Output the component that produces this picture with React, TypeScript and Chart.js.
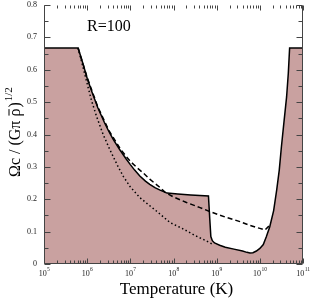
import React, { useEffect, useRef } from "react";
import { Chart, registerables } from "chart.js";

Chart.register(...registerables);

// log10 of temperature (K) and Omega_c / (G pi rho)^1/2
const solidLogT = [5, 5.79, 5.9, 6.0, 6.1, 6.25, 6.4, 6.5, 6.6, 6.76, 6.9, 7.0, 7.1, 7.22, 7.35, 7.45, 7.58, 7.69, 7.85, 8.1, 8.4, 8.81, 8.84, 8.865, 8.9, 8.95, 9.07, 9.2, 9.4, 9.6, 9.7, 9.77, 9.84, 9.92, 10.0, 10.08, 10.15, 10.23, 10.32, 10.39, 10.45, 10.5, 10.56, 10.62, 10.66, 10.69, 11];
const solidOmega = [0.667, 0.667, 0.62, 0.574, 0.535, 0.482, 0.437, 0.41, 0.386, 0.352, 0.325, 0.307, 0.29, 0.272, 0.256, 0.246, 0.235, 0.228, 0.219, 0.216, 0.213, 0.21, 0.14, 0.085, 0.072, 0.065, 0.058, 0.052, 0.046, 0.04, 0.036, 0.034, 0.035, 0.04, 0.048, 0.06, 0.084, 0.115, 0.165, 0.228, 0.29, 0.362, 0.44, 0.516, 0.59, 0.667, 0.667];

const dashedLogT = [5.79, 6.0, 6.25, 6.5, 6.76, 6.9, 7.0, 7.15, 7.3, 7.45, 7.69, 7.8, 8.0, 8.3, 8.6, 8.84, 9.2, 9.54, 9.77, 10.0, 10.12, 10.21];
const dashedOmega = [0.667, 0.576, 0.484, 0.413, 0.357, 0.333, 0.317, 0.298, 0.281, 0.262, 0.236, 0.222, 0.207, 0.19, 0.175, 0.162, 0.145, 0.131, 0.119, 0.11, 0.105, 0.117];

const dottedLogT = [5.79, 5.9, 6.0, 6.1, 6.22, 6.37, 6.53, 6.7, 6.84, 7.0, 7.22, 7.45, 7.61, 7.92, 8.2, 8.5, 8.75, 8.92];
const dottedOmega = [0.667, 0.61, 0.557, 0.505, 0.455, 0.4, 0.352, 0.305, 0.27, 0.238, 0.205, 0.18, 0.163, 0.128, 0.11, 0.088, 0.072, 0.06];

const xDecades = [5, 6, 7, 8, 9, 10, 11];
const yTicks = [0, 0.1, 0.2, 0.3, 0.4, 0.5, 0.6, 0.7, 0.8];
const annotationText = "R=100";
const xTitle = "Temperature (K)";

const SERIF = "'Liberation Serif', 'DejaVu Serif', serif";

const toPts = (lt: number[], v: number[]) => lt.map((e, i) => ({ x: Math.pow(10, e), y: v[i] }));

const decorPlugin = {
  id: "decor",
  afterDraw(chart: any) {
    const ctx = chart.ctx;
    const xs = chart.scales.x;
    const ys = chart.scales.y;
    const { left, right, top, bottom } = chart.chartArea;
    const L = Math.round(left) + 0.5;
    const R = Math.round(right) - 0.5;
    const B = Math.round(bottom) - 0.5;
    const T = Math.round(top) + 0.5;
    ctx.save();
    ctx.strokeStyle = "#444";
    ctx.lineWidth = 1;
    ctx.beginPath();
    ctx.moveTo(L, T);
    ctx.lineTo(L, B);
    ctx.lineTo(R, B);
    ctx.lineTo(R, T);
    ctx.stroke();
    ctx.beginPath();
    for (let i = 0; i < xDecades.length; i++) {
      const e = xDecades[i];
      for (let k = 1; k <= 9; k++) {
        if (e === xDecades[xDecades.length - 1] && k > 1) break;
        const px = Math.round(xs.getPixelForValue(k * Math.pow(10, e))) + 0.5;
        const len = k === 1 ? 5 : 3;
        ctx.moveTo(px, B);
        ctx.lineTo(px, B - len);
        ctx.moveTo(px, T);
        ctx.lineTo(px, T + len);
      }
    }
    for (let j = 0; j <= 16; j++) {
      const v = j * 0.05;
      const py = Math.round(ys.getPixelForValue(v)) + 0.5;
      const len = j % 2 === 0 ? 6 : 4;
      ctx.moveTo(L, py);
      ctx.lineTo(L + len, py);
      ctx.moveTo(R, py);
      ctx.lineTo(R - len, py);
    }
    ctx.stroke();

    ctx.fillStyle = "#222";
    ctx.textBaseline = "alphabetic";
    for (const e of xDecades) {
      const px = xs.getPixelForValue(Math.pow(10, e));
      ctx.font = `8px ${SERIF}`;
      const w1 = ctx.measureText("10").width;
      ctx.font = `5.5px ${SERIF}`;
      const w2 = ctx.measureText(String(e)).width;
      const x0 = px - (w1 + w2) / 2;
      ctx.font = `8px ${SERIF}`;
      ctx.textAlign = "left";
      ctx.fillText("10", x0, 276);
      ctx.font = `5.5px ${SERIF}`;
      ctx.fillText(String(e), x0 + w1 + 0.3, 271);
    }

    ctx.fillStyle = "#000";
    ctx.font = `17px ${SERIF}`;
    ctx.textAlign = "center";
    ctx.fillText(xTitle, 176.5, 294);

    ctx.font = `16px ${SERIF}`;
    ctx.textAlign = "left";
    ctx.fillText(annotationText, 87, 31);

    ctx.save();
    ctx.translate(20, 177);
    ctx.rotate(-Math.PI / 2);
    ctx.font = `16px ${SERIF}`;
    ctx.textAlign = "left";
    let x = 0;
    const part1 = "\u03A9c / (G\u03C0 ";
    ctx.fillText(part1, x, 0);
    x += ctx.measureText(part1).width;
    const rho = "\u03C1";
    ctx.fillText(rho, x, 0);
    const rw = ctx.measureText(rho).width;
    ctx.fillRect(x + 1, -11.5, rw - 1.5, 1);
    x += rw + 1;
    ctx.fillText(")", x, 0);
    x += ctx.measureText(")").width + 1;
    ctx.font = `11px ${SERIF}`;
    ctx.fillText("1/2", x, -8);
    ctx.restore();
    ctx.restore();
  },
};

export default function App() {
  const ref = useRef<HTMLCanvasElement | null>(null);
  useEffect(() => {
    if (!ref.current) return;
    const chart = new Chart(ref.current, {
      type: "line",
      data: {
        datasets: [
          {
            data: toPts(solidLogT, solidOmega),
            borderColor: "#000",
            borderWidth: 1.5,
            backgroundColor: "#c9a1a0",
            fill: "origin",
            pointRadius: 0,
            tension: 0,
          },
          {
            data: toPts(dashedLogT, dashedOmega),
            borderColor: "#000",
            borderWidth: 1.5,
            borderDash: [5, 3],
            fill: false,
            pointRadius: 0,
            tension: 0,
          },
          {
            data: toPts(dottedLogT, dottedOmega),
            borderColor: "#000",
            borderWidth: 1.5,
            borderDash: [1.5, 2.5],
            fill: false,
            pointRadius: 0,
            tension: 0,
          },
        ],
      },
      options: {
        animation: false,
        responsive: false,
        devicePixelRatio: 1,
        layout: { padding: { left: 0, right: 10, top: 5, bottom: 0 } },
        plugins: {
          legend: { display: false },
          tooltip: { enabled: false },
          filler: { drawTime: "beforeDatasetsDraw" },
        },
        scales: {
          x: {
            type: "logarithmic",
            min: 1e5,
            max: 1e11,
            grid: { display: false, drawTicks: false },
            border: { display: false },
            ticks: { display: false },
            afterFit: (s: any) => {
              s.height = 36;
              s.paddingLeft = 0;
              s.paddingRight = 0;
            },
          },
          y: {
            type: "linear",
            min: 0,
            max: 0.8,
            grid: { display: false, drawTicks: false },
            border: { display: false },
            afterBuildTicks: (s: any) => {
              s.ticks = yTicks.map((v) => ({ value: v }));
            },
            ticks: {
              padding: 7,
              color: "#222",
              font: { family: SERIF, size: 8 },
              callback: (v: any) => String(Math.round(Number(v) * 10) / 10),
            },
            afterFit: (s: any) => {
              s.width = 44;
              s.paddingTop = 0;
              s.paddingBottom = 0;
            },
          },
        },
      },
      plugins: [decorPlugin],
    } as any);
    return () => chart.destroy();
  }, []);
  return (
    <div style={{ position: "fixed", left: 0, top: 0, width: 313, height: 300 }}>
      <canvas ref={ref} width={313} height={300} style={{ width: 313, height: 300 }} />
    </div>
  );
}
